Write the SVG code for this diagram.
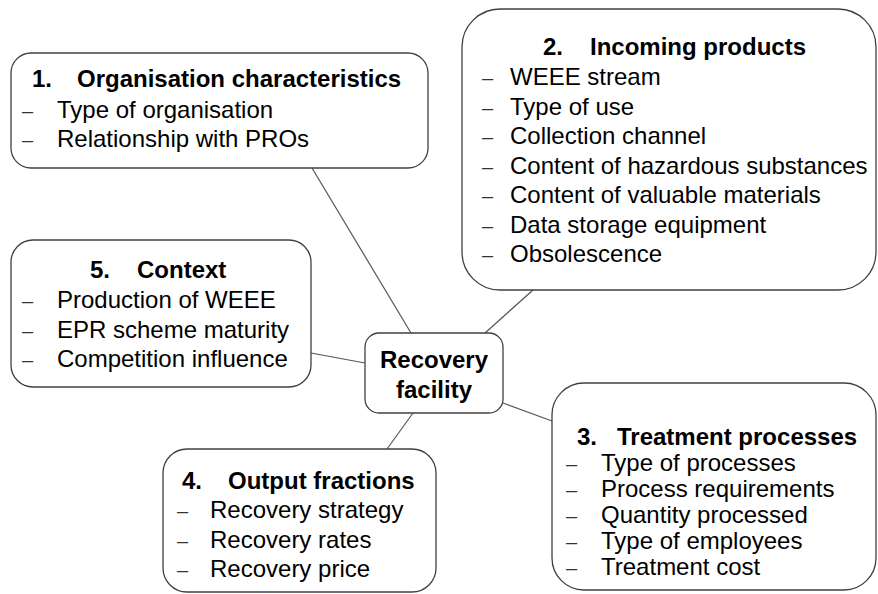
<svg xmlns="http://www.w3.org/2000/svg" width="878" height="594" viewBox="0 0 878 594">
<style>
.box{fill:#fff;stroke:#404040;stroke-width:1.3}
.t{font-family:"Liberation Sans",Arial,sans-serif;font-size:24px;fill:#000}
.d{font-family:"Liberation Sans",Arial,sans-serif;font-size:20px;fill:#333}
.b{font-weight:bold}
.c{stroke:#555;stroke-width:1.2;fill:none}
</style>
<rect width="878" height="594" fill="#fff"/>
<g id="connectors">
<line class="c" x1="312" y1="168" x2="411" y2="333"/>
<line class="c" x1="533" y1="290" x2="485" y2="333"/>
<line class="c" x1="311" y1="353" x2="365" y2="363"/>
<line class="c" x1="503" y1="403" x2="552" y2="421"/>
<line class="c" x1="413" y1="413" x2="387" y2="449"/>
</g>
<g id="n1">
<rect class="box" x="11" y="53" width="417" height="115" rx="20"/>
<text class="t b" y="87"><tspan x="32">1.</tspan><tspan x="77">Organisation characteristics</tspan></text>
<text class="d" x="22" y="118">–</text><text class="t" x="57" y="118">Type of organisation</text>
<text class="d" x="22" y="147">–</text><text class="t" x="57" y="147">Relationship with PROs</text>
</g>
<g id="n2">
<rect class="box" x="462" y="9" width="414" height="281" rx="38"/>
<text class="t b" y="55"><tspan x="543">2.</tspan><tspan x="590">Incoming products</tspan></text>
<text class="d" x="482" y="85">–</text><text class="t" x="510" y="85">WEEE stream</text>
<text class="d" x="482" y="114.5">–</text><text class="t" x="510" y="114.5">Type of use</text>
<text class="d" x="482" y="144">–</text><text class="t" x="510" y="144">Collection channel</text>
<text class="d" x="482" y="173.5">–</text><text class="t" x="510" y="173.5">Content of hazardous substances</text>
<text class="d" x="482" y="203">–</text><text class="t" x="510" y="203">Content of valuable materials</text>
<text class="d" x="482" y="232.5">–</text><text class="t" x="510" y="232.5">Data storage equipment</text>
<text class="d" x="482" y="262">–</text><text class="t" x="510" y="262">Obsolescence</text>
</g>
<g id="n5">
<rect class="box" x="11" y="240" width="300" height="147" rx="22"/>
<text class="t b" y="278"><tspan x="90">5.</tspan><tspan x="137">Context</tspan></text>
<text class="d" x="22" y="308">–</text><text class="t" x="57" y="308">Production of WEEE</text>
<text class="d" x="22" y="338">–</text><text class="t" x="57" y="338">EPR scheme maturity</text>
<text class="d" x="22" y="367">–</text><text class="t" x="57" y="367">Competition influence</text>
</g>
<g id="center">
<rect class="box" x="365" y="333" width="138" height="80" rx="14"/>
<text class="t b" x="434" y="368" text-anchor="middle">Recovery</text>
<text class="t b" x="434" y="398" text-anchor="middle">facility</text>
</g>
<g id="n3">
<rect class="box" x="552" y="383" width="324" height="207" rx="32"/>
<text class="t b" y="445"><tspan x="577">3.</tspan><tspan x="617">Treatment processes</tspan></text>
<text class="d" x="566" y="471">–</text><text class="t" x="601" y="471">Type of processes</text>
<text class="d" x="566" y="497">–</text><text class="t" x="601" y="497">Process requirements</text>
<text class="d" x="566" y="523">–</text><text class="t" x="601" y="523">Quantity processed</text>
<text class="d" x="566" y="549">–</text><text class="t" x="601" y="549">Type of employees</text>
<text class="d" x="566" y="575">–</text><text class="t" x="601" y="575">Treatment cost</text>
</g>
<g id="n4">
<rect class="box" x="163" y="449" width="273" height="143" rx="24"/>
<text class="t b" y="489"><tspan x="182">4.</tspan><tspan x="228">Output fractions</tspan></text>
<text class="d" x="177" y="518">–</text><text class="t" x="210" y="518">Recovery strategy</text>
<text class="d" x="177" y="548">–</text><text class="t" x="210" y="548">Recovery rates</text>
<text class="d" x="177" y="577">–</text><text class="t" x="210" y="577">Recovery price</text>
</g>
</svg>
